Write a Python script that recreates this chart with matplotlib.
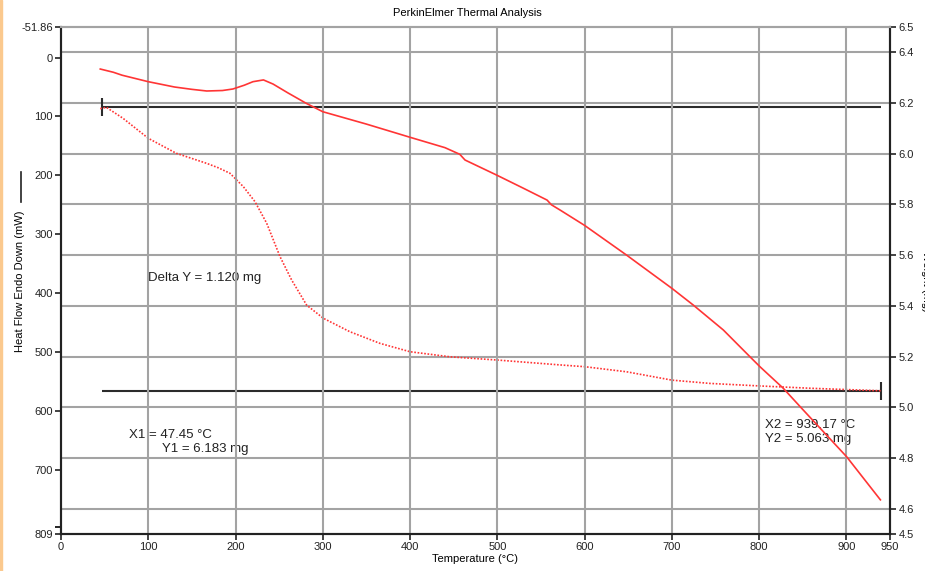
import matplotlib
matplotlib.use("Agg")
import matplotlib.pyplot as plt
from matplotlib.patches import Rectangle

plt.rcParams['font.family'] = ['Liberation Sans', 'DejaVu Sans']

# heat flow trace (solid), temperature in C, heat flow in mW
hf_temp = [45, 60, 70, 100, 130, 150, 167, 185, 197, 210, 220, 232, 243, 260, 281, 300,
           350, 400, 440, 457, 463, 499, 530, 557, 562, 572, 600, 648, 700, 724.5,
           759, 789.5, 801, 827.7, 850.6, 900.3, 939]
hf_val = [19.5, 25, 30, 41, 50, 54, 56.8, 56, 53.4, 47, 41, 38, 45, 60, 77.7, 92,
          113, 135.4, 153, 164.3, 174, 199.4, 222, 242, 250, 259, 285, 335.3, 391.8, 420.2,
          462.6, 508, 525, 561.6, 598.5, 677.8, 751]

# weight trace (dotted), mg
wt_temp = [45, 52, 71, 100, 132, 167, 180, 193.6, 209, 222.3, 235.7, 251, 264.3, 281.5, 300.6,
           331, 365.5, 400, 445.7, 501, 571.8, 600, 648, 700, 743.7, 801, 858, 939.17]
wt_val = [6.178, 6.183, 6.14, 6.061, 6.002, 5.962, 5.945, 5.923, 5.87, 5.811, 5.726, 5.594, 5.502, 5.403, 5.351,
          5.298, 5.252, 5.219, 5.199, 5.186, 5.167, 5.16, 5.14, 5.107, 5.094, 5.084, 5.075, 5.065]

# cursor readouts
x1, y1 = 47.45, 6.183
x2, y2 = 939.17, 5.063
delta_y = 1.120

x_ticks = [0, 100, 200, 300, 400, 500, 600, 700, 800, 900, 950]
hf_ticks = [-51.86, 0, 100, 200, 300, 400, 500, 600, 700, 809]
hf_labels = ['-51.86', '0', '100', '200', '300', '400', '500', '600', '700', '809']
wt_ticks = [4.5, 4.6, 4.8, 5.0, 5.2, 5.4, 5.6, 5.8, 6.0, 6.2, 6.4, 6.5]
wt_grid = [4.6, 4.8, 5.0, 5.2, 5.4, 5.6, 5.8, 6.0, 6.2, 6.4]

fig = plt.figure(figsize=(9.25, 5.71), dpi=100)
ax = fig.add_axes([61/925, 1 - 534/571, (890 - 61)/925, (534 - 27)/571])
ax2 = ax.twinx()
ax.set_zorder(ax2.get_zorder() + 1)
ax.patch.set_visible(False)

grid_c = '#a3a3a3'
red = '#ff3535'

ax.set_xlim(0, 950)
ax.set_ylim(809, -51.86)
ax2.set_ylim(4.5, 6.5)

# grid
for t in x_ticks[1:-1]:
    ax.axvline(t, color=grid_c, lw=1.5, zorder=0)
for w in wt_grid:
    ax2.axhline(w, color=grid_c, lw=1.5, zorder=0)

ax.plot(hf_temp, hf_val, color=red, lw=1.2, zorder=3)
ax2.plot(wt_temp, wt_val, color=red, lw=1.2, ls=(0, (1, 1)), zorder=3)

# cursor lines
ax2.hlines(y1, x1, x2, color='#2b2b2b', lw=1.5, zorder=2)
ax2.vlines(x1, y1 - 0.035, y1 + 0.035, color='#2b2b2b', lw=1.5, zorder=2)
ax2.hlines(y2, x1, x2, color='#2b2b2b', lw=1.5, zorder=2)
ax2.vlines(x2, y2 - 0.035, y2 + 0.035, color='#2b2b2b', lw=1.5, zorder=2)

fs = 9.5
ax2.text(100, 5.51, f'Delta Y = {delta_y:.3f} mg', fontsize=fs, va='center', ha='left', color='#222222')
ax2.text(78.3, 4.89, f'X1 = {x1:.2f} °C', fontsize=fs, va='center', ha='left', color='#222222')
ax2.text(115.4, 4.835, f'Y1 = {y1:.3f} mg', fontsize=fs, va='center', ha='left', color='#222222')
ax2.text(806.7, 4.93, f'X2 = {x2:.2f} °C', fontsize=fs, va='center', ha='left', color='#222222')
ax2.text(806.7, 4.875, f'Y2 = {y2:.3f} mg', fontsize=fs, va='center', ha='left', color='#222222')

# ticks and spines
ax.set_xticks(x_ticks)
ax.set_xticklabels([str(t) for t in x_ticks], fontsize=8)
ax.set_yticks(hf_ticks)
ax.set_yticklabels(hf_labels, fontsize=8)
ax.set_yticks([797], minor=True)
ax.tick_params(axis='y', which='minor', length=4, width=1.2)
ax.tick_params(axis='both', which='major', length=4, width=1.2, pad=2, colors='#222222')
ax2.set_yticks(wt_ticks)
ax2.set_yticklabels([f'{w:.1f}' for w in wt_ticks], fontsize=8)
ax2.tick_params(axis='y', length=4, width=1.2, pad=2, colors='#222222')

for a in (ax, ax2):
    a.spines['top'].set_color(grid_c)
    a.spines['top'].set_linewidth(1.5)
    for side in ('left', 'right', 'bottom'):
        a.spines[side].set_linewidth(1.5)
        a.spines[side].set_color('#222222')

ax.set_xlabel('Temperature (°C)', fontsize=8, labelpad=1)
fig.text(0.505, 1 - 13/571, 'PerkinElmer Thermal Analysis', fontsize=8, ha='center', va='center')
fig.text(20/925, 1 - 281/571, 'Heat Flow Endo Down (mW)', fontsize=8, rotation=90,
         ha='center', va='center')
fig.add_artist(plt.Line2D([21/925, 21/925], [1 - 172/571, 1 - 202/571], color='#222222', lw=1.2))
# weight axis label runs off the right edge of the window
fig.text(921/925, 1 - 281/571, 'Weight (mg)', fontsize=8, rotation=270,
         ha='left', va='center')
fig.add_artist(Rectangle((0, 0), 2/925, 1, color='#fbc98e', transform=fig.transFigure))

fig.savefig('out.png', dpi=100)
